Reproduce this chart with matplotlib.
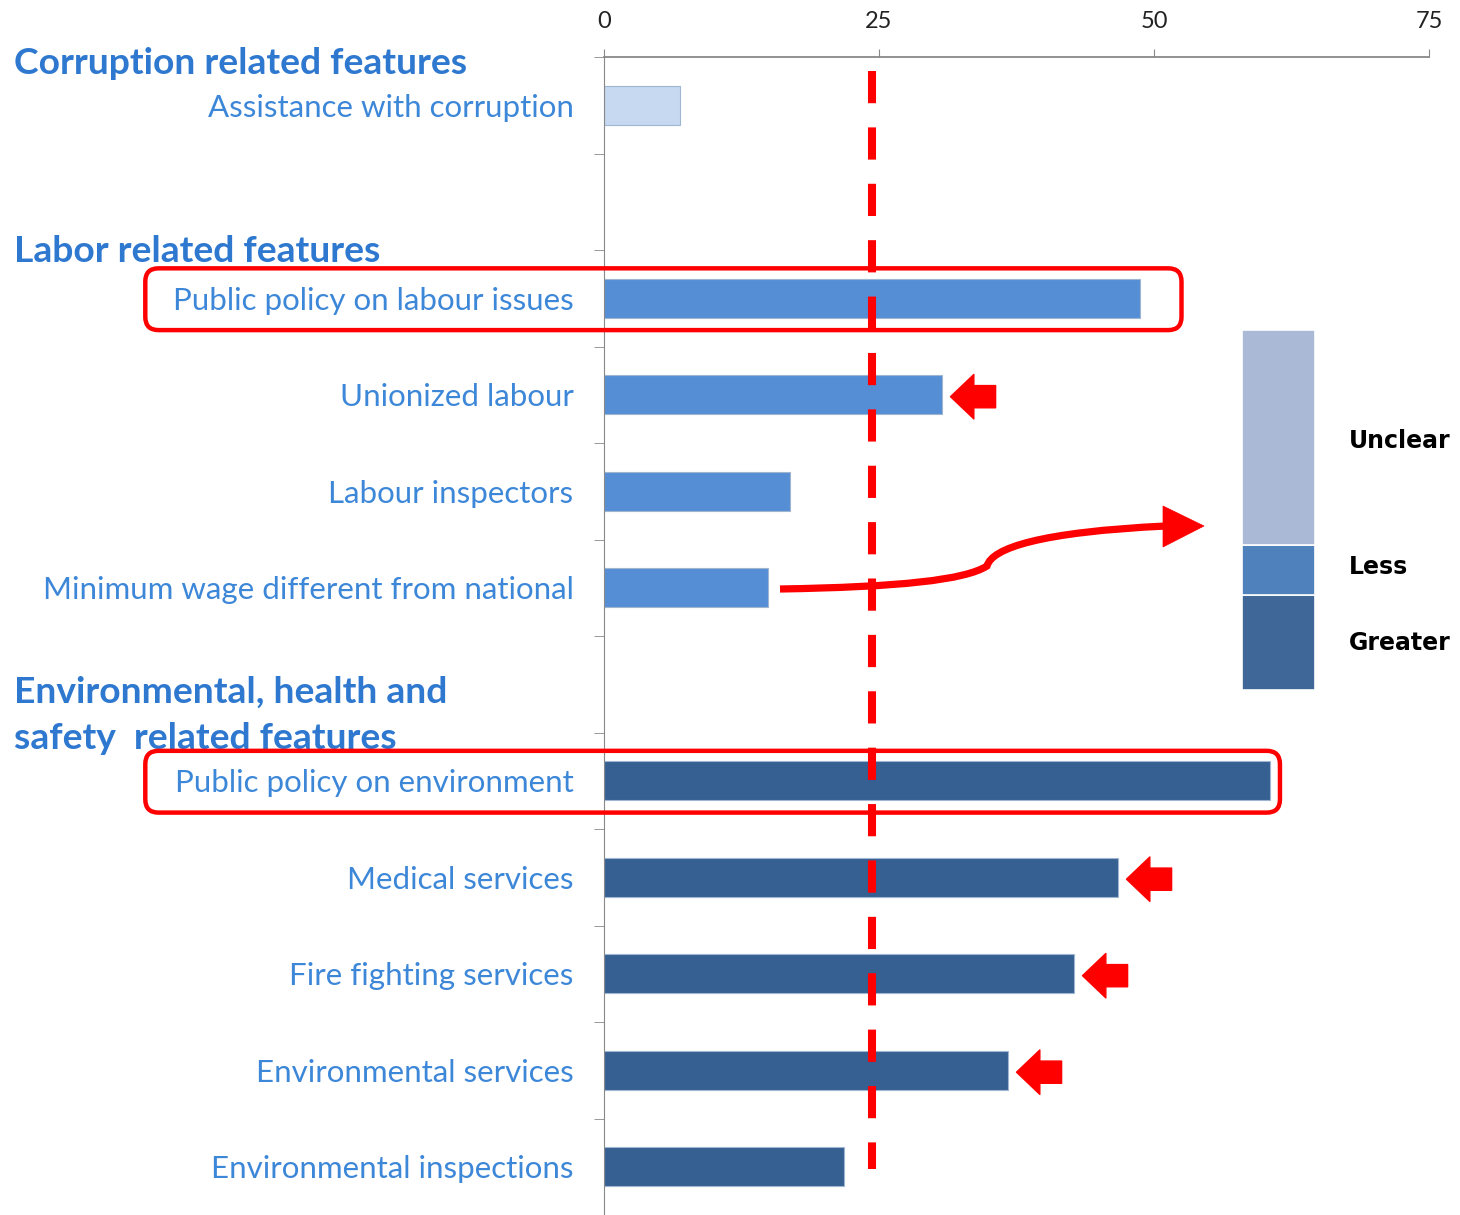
import matplotlib
matplotlib.use('Agg')
import matplotlib.pyplot as plt
import matplotlib.transforms as mtransforms
from matplotlib.patches import FancyBboxPatch, PathPatch, Polygon
from matplotlib.path import Path

# data (slot order, top to bottom)
corruption_items = ['Assistance with corruption']
corruption_vals = [6.9]
labour_items = ['Public policy on labour issues', 'Unionized labour',
                'Labour inspectors', 'Minimum wage different from national']
labour_vals = [48.7, 30.7, 16.9, 14.9]
env_items = ['Public policy on environment', 'Medical services',
             'Fire fighting services', 'Environmental services',
             'Environmental inspections']
env_vals = [60.5, 46.7, 42.7, 36.7, 21.8]

x_ticks = [0, 25, 50, 75]
ref_line = 24.4
legend_labels = ['Greater', 'Less', 'Unclear']
legend_sizes = [95, 50, 215]

c_corr = '#C6D9F1'
c_lab = '#558ED5'
c_env = '#366092'
label_col = '#3D87D8'
head_col = '#2E78CF'

W, H = 1460, 1215
fig = plt.figure(figsize=(W / 100, H / 100), dpi=100)
ax = fig.add_axes([604 / W, 0, (1429 - 604) / W, (H - 57) / H])

# lay out the slots: one blank slot between groups
names, vals, cols = [], [], []
for items, v, c in [(corruption_items, corruption_vals, c_corr),
                    (labour_items, labour_vals, c_lab),
                    (env_items, env_vals, c_env)]:
    if names:
        names.append(''); vals.append(0); cols.append('none')
    names += items; vals += v; cols += [c] * len(items)
pos = [i + 0.5 for i in range(len(names))]
idx = {n: i for i, n in enumerate(names)}

ax.barh(pos, vals, height=0.4, color=cols, edgecolor=['#9FB6D3' if c != 'none' else 'none' for c in cols],
        linewidth=0.8, zorder=2)

ax.set_xlim(0, 75)
ax.set_ylim(len(names), 0)
ax.xaxis.tick_top()
ax.set_xticks(x_ticks)
ax.tick_params(axis='x', direction='out', length=6, color='#888888', labelsize=17,
               labelcolor='#222222', pad=12)
ax.set_yticks(pos)
ax.set_yticklabels(names, fontfamily='Lato', fontsize=22.5, color=label_col)
ax.tick_params(axis='y', which='major', length=0, pad=22)
ax.set_yticks(range(len(names) + 1), minor=True)
ax.tick_params(axis='y', which='minor', length=7, color='#888888', direction='out')
for lab in ax.get_xticklabels():
    lab.set_fontfamily('Lato')
for s in ['right', 'bottom']:
    ax.spines[s].set_visible(False)
ax.spines['left'].set_color('#888888')
ax.spines['top'].set_color('#888888')
ax.spines['top'].set_linewidth(1.3)

# group headings
hb = mtransforms.blended_transform_factory(fig.transFigure, ax.transData)
hx = 14 / W
hkw = dict(transform=hb, fontfamily='Lato', fontweight='bold', fontsize=26.8,
           color=head_col, va='center', ha='left')
ax.text(hx, 0.07, 'Corruption related features', **hkw)
ax.text(hx, 2.02, 'Labor related features', **hkw)
ax.text(hx, 6.58, 'Environmental, health and', **hkw)
ax.text(hx, 7.06, 'safety  related features', **hkw)

# red dashed reference line
ax.plot([ref_line, ref_line], [0.14, 11.52], color='red', lw=5.8,
        linestyle=(0, (4, 3)), zorder=4, solid_capstyle='butt')

# red boxes round the two policy rows
for name in ['Public policy on labour issues', 'Public policy on environment']:
    i = idx[name]
    x1 = vals[i] + (3.8 if vals[i] < 55 else 0.95)
    box = FancyBboxPatch((-41.7, pos[i] - 0.31), x1 + 41.7, 0.64,
                         boxstyle='round,pad=0,rounding_size=1.2',
                         mutation_aspect=11.0 / 96.5, fill=False, ec='red', lw=3.2,
                         clip_on=False, zorder=5)
    ax.add_patch(box)

# small block arrows pointing at bars
for name in ['Unionized labour', 'Medical services', 'Fire fighting services',
             'Environmental services']:
    i = idx[name]
    ax.annotate('', xy=(vals[i] + 0.8, pos[i] + 0.02), xytext=(vals[i] + 4.9, pos[i] + 0.02),
                arrowprops=dict(arrowstyle='simple,head_length=1.05,head_width=2.0,tail_width=1.0',
                                color='red', shrinkA=0, shrinkB=0, mutation_scale=16),
                annotation_clip=False, zorder=5)

# curved arrow from minimum wage bar to legend (pixel space, origin top-left)
pix = mtransforms.Affine2D().scale(1, -1).translate(0, H)
verts = [(780, 589), (900, 587), (965, 580), (987, 566),
         (992, 548), (1040, 532), (1166, 526)]
codes = [Path.MOVETO] + [Path.CURVE4] * 6
fig.patches.append(PathPatch(Path(verts, codes), fill=False, ec='red', lw=5.2,
                             transform=pix, capstyle='butt'))
fig.patches.append(Polygon([(1163, 506), (1204, 526), (1163, 547)], closed=True,
                           fc='red', ec='red', lw=0.5, transform=pix))

# legend colour strip
lax = fig.add_axes([1242 / W, 1 - 690 / H, 73 / W, 360 / H])
bottom = 0
for lab, s, c in zip(legend_labels, legend_sizes, ['#3F6898', '#4F81BD', '#A9B9D6']):
    lax.bar(0, s, bottom=bottom, width=1, color=c, edgecolor='white', linewidth=1.2)
    bottom += s
lax.set_xlim(-0.5, 0.5)
lax.set_ylim(0, sum(legend_sizes))
lax.axis('off')
for lab, y in zip(legend_labels, [643, 567, 441]):
    fig.text(1349 / W, 1 - y / H, lab, fontsize=17, fontweight='bold', color='black',
             va='center', ha='left', fontfamily='DejaVu Sans')

fig.savefig('out.png', dpi=100)
